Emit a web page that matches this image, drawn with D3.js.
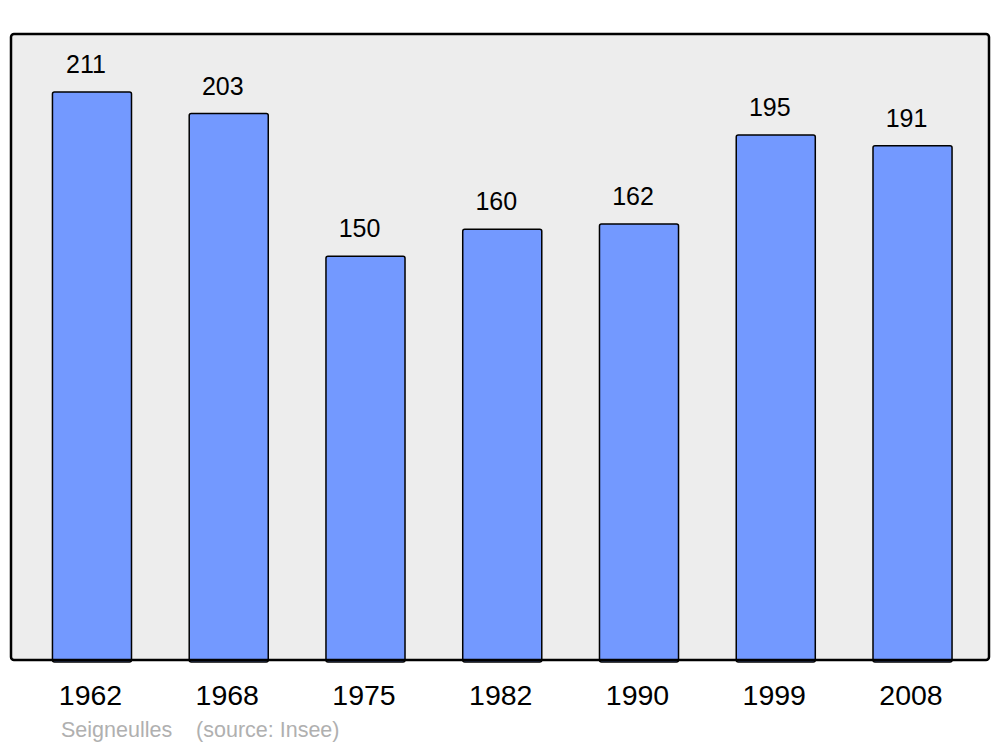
<!DOCTYPE html>
<html lang="fr">
<head>
<meta charset="utf-8">
<title>Seigneulles</title>
<script src="https://cdn.jsdelivr.net/npm/d3@7"></script>
<style>
  body { margin: 0; background: #fff; }
  text { font-family: "Liberation Sans", Arial, sans-serif; }
</style>
</head>
<body>
<script>
// population data
var years = ["1962", "1968", "1975", "1982", "1990", "1999", "2008"];
var population = [211, 203, 150, 160, 162, 195, 191];

var w = 1000, h = 747;
var frame = { left: 11, top: 34, right: 989, bottom: 660 };

var svg = d3.select("body").append("svg")
  .attr("width", w)
  .attr("height", h);

// background panel
svg.append("rect")
  .attr("x", frame.left)
  .attr("y", frame.top)
  .attr("width", frame.right - frame.left)
  .attr("height", frame.bottom - frame.top)
  .attr("rx", 3)
  .attr("fill", "#ededed");

var x = d3.scaleBand()
  .domain(years)
  .range([23.6, 980.9])
  .paddingInner(0.422)
  .paddingOuter(0.211);

var y = d3.scaleLinear()
  .domain([0, 211])
  .range([frame.bottom, 92]);

var data = years.map(function(d, i) { return { year: d, value: population[i] }; });

svg.selectAll("rect.bar")
  .data(data)
  .enter()
  .append("rect")
  .attr("class", "bar")
  .attr("x", function(d) { return x(d.year); })
  .attr("y", function(d) { return y(d.value); })
  .attr("width", x.bandwidth())
  .attr("height", function(d) { return frame.bottom - y(d.value) + 2; })
  .attr("rx", 2)
  .attr("fill", "#7399ff")
  .attr("stroke", "#000")
  .attr("stroke-width", 1.5);

// value labels
svg.selectAll("text.value")
  .data(data)
  .enter()
  .append("text")
  .attr("class", "value")
  .attr("x", function(d) { return x(d.year) + x.bandwidth() / 2 - 6; })
  .attr("y", function(d) { return y(d.value) - 19; })
  .attr("text-anchor", "middle")
  .attr("font-size", "25px")
  .attr("fill", "#000")
  .text(function(d) { return d.value; });

// frame border on top
svg.append("rect")
  .attr("x", frame.left)
  .attr("y", frame.top)
  .attr("width", frame.right - frame.left)
  .attr("height", frame.bottom - frame.top)
  .attr("rx", 3)
  .attr("fill", "none")
  .attr("stroke", "#000")
  .attr("stroke-width", 2.5);

// year axis
var xAxis = d3.axisBottom(x).tickSize(0).tickPadding(0);
var gx = svg.append("g")
  .attr("transform", "translate(-1.5," + (frame.bottom + 25) + ")")
  .call(xAxis);
gx.select(".domain").remove();
gx.selectAll("text")
  .attr("font-family", "Liberation Sans, Arial, sans-serif")
  .attr("font-size", "28.5px")
  .attr("fill", "#000")
  .attr("dy", "0.71em");

// source
svg.append("text")
  .attr("x", 61)
  .attr("y", 737)
  .attr("font-size", "21.5px")
  .attr("fill", "#b0b0b0")
  .attr("xml:space", "preserve")
  .text("Seigneulles    (source: Insee)");
</script>
</body>
</html>
